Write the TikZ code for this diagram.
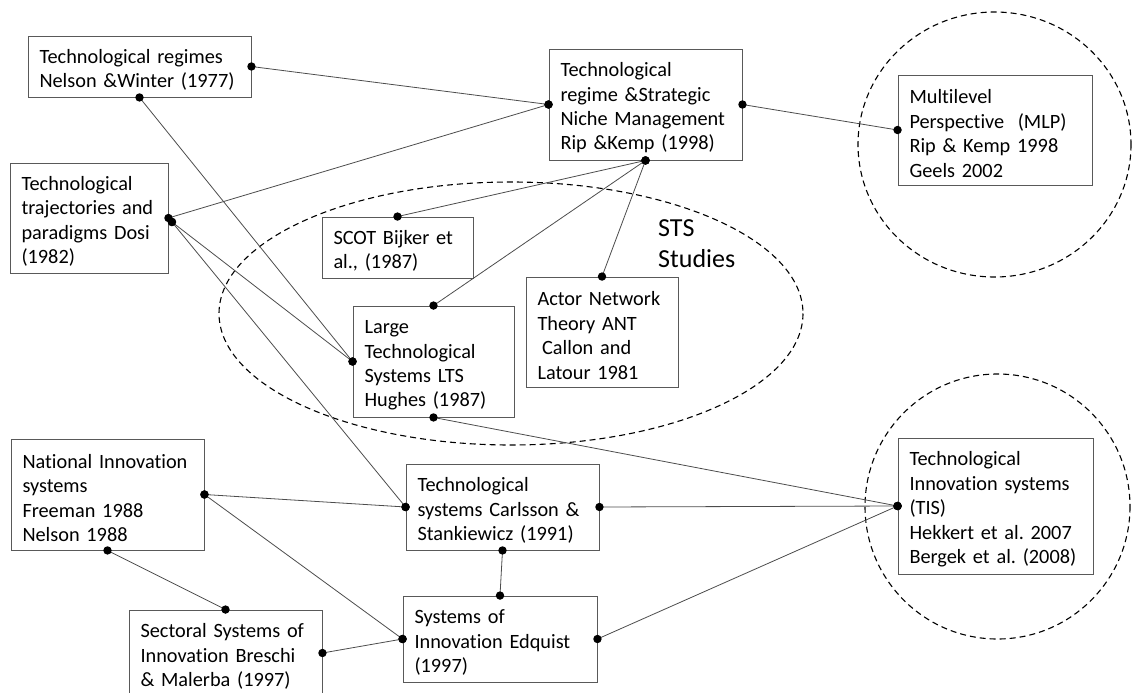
\documentclass[tikz,border=0pt]{standalone}
\usepackage{fontspec}
\setmainfont{Carlito}[Ligatures=NoCommon]
\frenchspacing
\begin{document}
\begin{tikzpicture}[x=1pt,y=-1pt,
  box/.style={draw=black!65, line width=0.9pt, rectangle, align=left,
    inner xsep=11.5pt, inner ysep=0pt, font=\fontsize{20.3}{24.4}\selectfont,
    text=black, execute at begin node={\rule{0pt}{21pt}}},
  ring/.style={draw=black, line width=1.1pt, dash pattern=on 6pt off 4pt},
  conn/.style={draw=black!70, line width=0.8pt},
  dotc/.style={fill=black}]
\useasboundingbox (0,0) rectangle (1132,693);

% dashed groupings
\draw[ring] (511,313.5) ellipse [x radius=292, y radius=131.5];
\draw[ring] (994.5,144.5) ellipse [x radius=136.5, y radius=132.5];
\draw[ring] (997.5,506.5) ellipse [x radius=132.5, y radius=132.5];

\node[anchor=north west, align=left, inner sep=0pt,
  font=\fontsize{26}{31}\selectfont] (sts) at (658,219) {STS\\Studies};

% boxes
\node[box, minimum width=223, minimum height=61, text width=200] (tr) at (139.5,66.5)
  {Technological regimes\\Nelson \&Winter (1977)};
\node[box, minimum width=158, minimum height=110, text width=135] (dosi) at (89,218)
  {Technological\\trajectories and\\paradigms Dosi\\(1982)};
\node[box, minimum width=193, minimum height=111, text width=170] (snm) at (645.5,104.5)
  {Technological\\regime \&Strategic\\Niche Management\\Rip \&Kemp (1998)};
\node[box, minimum width=194, minimum height=110, text width=171] (mlp) at (995,130)
  {Multilevel\\Perspective\ \ (MLP)\\Rip \& Kemp 1998\\Geels 2002};
\node[box, minimum width=151, minimum height=61, text width=128] (scot) at (397.5,247.5)
  {SCOT Bijker et\\al., (1987)};
\node[box, minimum width=152, minimum height=110, text width=129] (ant) at (602,332)
  {Actor Network\\Theory ANT\\\hspace*{0.23em}Callon and\\Latour 1981};
\node[box, minimum width=161, minimum height=111, text width=138] (lts) at (433.5,361.5)
  {Large\\Technological\\Systems LTS\\Hughes (1987)};
\node[box, minimum width=193, minimum height=111, text width=170] (nis) at (107.5,494.5)
  {National Innovation\\systems\\Freeman 1988\\Nelson 1988};
\node[box, minimum width=193, minimum height=86, text width=170] (carl) at (502.5,507)
  {Technological\\systems Carlsson \&\\Stankiewicz (1991)};
\node[box, minimum width=194, minimum height=86, text width=171] (edq) at (500,639)
  {Systems of\\Innovation Edquist\\(1997)};
\node[box, minimum width=193, minimum height=86, text width=170] (sect) at (225.5,653)
  {Sectoral Systems of\\Innovation Breschi\\\& Malerba (1997)};
\node[box, minimum width=195, minimum height=136, text width=172] (tis) at (995.5,506)
  {Technological\\Innovation systems\\(TIS)\\Hekkert et al. 2007\\Bergek et al. (2008)};

% second attachment point on the Dosi box
\coordinate (dosiB) at ([xshift=3.5pt,yshift=-4pt]dosi.east);

% connectors with dots at both ends
\newcommand{\joinnodes}[2]{%
  \draw[conn] (#1) -- (#2);
  \fill[dotc] (#1) circle (4.2pt);
  \fill[dotc] (#2) circle (4.2pt);}

\joinnodes{tr.east}{snm.west}
\joinnodes{tr.south}{lts.west}
\joinnodes{dosi.east}{snm.west}
\joinnodes{dosiB}{lts.west}
\joinnodes{dosiB}{carl.west}
\joinnodes{snm.east}{mlp.west}
\joinnodes{snm.south}{scot.north}
\joinnodes{snm.south}{lts.north}
\joinnodes{snm.south}{ant.north}
\joinnodes{lts.south}{tis.west}
\joinnodes{nis.east}{carl.west}
\joinnodes{nis.east}{edq.west}
\joinnodes{nis.south}{sect.north}
\joinnodes{carl.east}{tis.west}
\joinnodes{carl.south}{edq.north}
\joinnodes{sect.east}{edq.west}
\joinnodes{edq.east}{tis.west}
\end{tikzpicture}
\end{document}
